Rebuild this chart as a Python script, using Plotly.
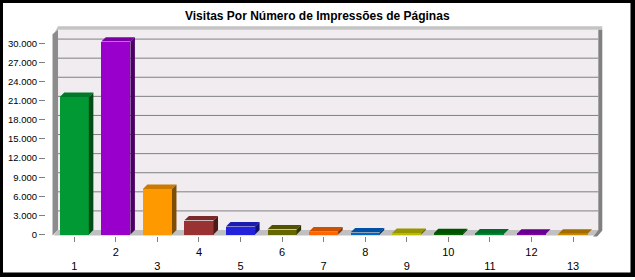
import plotly.graph_objects as go

# ---------------- data ----------------
CATEGORIES = [1, 2, 3, 4, 5, 6, 7, 8, 9, 10, 11, 12, 13]
X_LABELS = ["1", "2", "3", "4", "5", "6", "7", "8", "9", "10", "11", "12", "13"]
VISITS = [21600, 30300, 7150, 2220, 1250, 800, 480, 330, 220, 200, 160, 130, 110]
BAR_COLORS = ["#009933", "#9900cc", "#ff9900", "#993333", "#2222dd", "#666600",
              "#ff6600", "#0066cc", "#bbbb00", "#006600", "#008833", "#8000b0", "#cc8800"]
Y_TICKS = [0, 3000, 6000, 9000, 12000, 15000, 18000, 21000, 24000, 27000, 30000]
Y_TICK_TEXT = ["0", "3.000", "6.000", "9.000", "12.000", "15.000", "18.000",
               "21.000", "24.000", "27.000", "30.000"]
TITLE = "Visitas Por Número de Impressões de Páginas"

# ---------------- geometry (pixels) ----------------
W, H = 635, 280
DOM_L, DOM_R, DOM_T, DOM_B = 50, 604, 26, 239
U = 41.56            # px per category unit
X1_PX = 74.3         # pixel of category 1
S = 193 / 30000      # px per value
Y0_PX = 237          # pixel of value 0
DX_PX, DY_PX = 4.5, 4.5   # 3D depth
BAR_W = 0.7

x_range = [1 - (X1_PX - DOM_L) / U, 1 + (DOM_R - X1_PX) / U]
y_range = [-(DOM_B - Y0_PX) / S, (Y0_PX - DOM_T) / S]


def px2x(p):
    return 1 + (p - X1_PX) / U


def px2y(p):
    return (Y0_PX - p) / S


DX = DX_PX / U
DY = DY_PX / S


def shade(hexcol, f):
    r, g, b = int(hexcol[1:3], 16), int(hexcol[3:5], 16), int(hexcol[5:7], 16)
    return "#%02x%02x%02x" % (int(r * f), int(g * f), int(b * f))


def path(points):
    return "M " + " L ".join(f"{px2x(a)},{px2y(b)}" for a, b in points) + " Z"


fig = go.Figure()

# front faces
fig.add_trace(go.Bar(x=CATEGORIES, y=VISITS, width=BAR_W,
                     marker=dict(color=BAR_COLORS, line=dict(width=0)),
                     hoverinfo="skip", showlegend=False))

# top and side faces
for c, v, col in zip(CATEGORIES, VISITS, BAR_COLORS):
    xl, xr = c - BAR_W / 2, c + BAR_W / 2
    top_col = shade(col, 0.8)
    side_col = shade(col, 0.5)
    fig.add_trace(go.Scatter(x=[xl, xr, xr + DX, xl + DX, xl], y=[v, v, v + DY, v + DY, v],
                             fill="toself", fillcolor=top_col, mode="lines",
                             line=dict(width=0, color=top_col),
                             hoverinfo="skip", showlegend=False))
    fig.add_trace(go.Scatter(x=[xr, xr + DX, xr + DX, xr, xr], y=[0, DY, v + DY, v, 0],
                             fill="toself", fillcolor=side_col, mode="lines",
                             line=dict(width=0, color=side_col),
                             hoverinfo="skip", showlegend=False))

# dummy trace for second label row
fig.add_trace(go.Scatter(x=[1], y=[0], xaxis="x2", mode="markers",
                         marker=dict(opacity=0), hoverinfo="skip", showlegend=False))

# front plane pixel extents
FL, FR = X1_PX - U / 2, X1_PX + 12.5 * U
BL, BR = FL + DX_PX, FR + DX_PX
WALL_TOP = 30
FLOOR_BACK = Y0_PX - DY_PX

shapes = []
# back wall
shapes.append(dict(type="path", xref="x", yref="y", layer="below",
                   path=path([(BL, FLOOR_BACK), (BR, FLOOR_BACK), (BR, WALL_TOP), (BL, WALL_TOP)]),
                   fillcolor="#f0ecf0", line=dict(width=0)))
# top strip
shapes.append(dict(type="path", xref="x", yref="y", layer="below",
                   path=path([(FL, WALL_TOP + DY_PX), (BL, WALL_TOP - 4 + 0.5), (BR + 4, WALL_TOP - 4 + 0.5),
                              (BR + 4, WALL_TOP), (BL, WALL_TOP)]),
                   fillcolor="#c4c4c4", line=dict(width=0)))
# left wall
shapes.append(dict(type="path", xref="x", yref="y", layer="below",
                   path=path([(FL - 1, Y0_PX + 1), (BL, FLOOR_BACK), (BL, WALL_TOP), (FL - 1, WALL_TOP + DY_PX)]),
                   fillcolor="#8c8c8c", line=dict(width=0)))
# floor
shapes.append(dict(type="path", xref="x", yref="y", layer="below",
                   path=path([(FL, Y0_PX + 1), (FR, Y0_PX + 1), (BR, FLOOR_BACK), (BL, FLOOR_BACK)]),
                   fillcolor="#c0c0c0", line=dict(width=0)))
# right edge
shapes.append(dict(type="path", xref="x", yref="y", layer="below",
                   path=path([(BR, WALL_TOP), (BR + 4, WALL_TOP), (BR + 4, FLOOR_BACK + 0.5),
                              (FR + 3, Y0_PX + 2.5), (FR - 1, Y0_PX + 2.5), (BR, FLOOR_BACK)]),
                   fillcolor="#808080", line=dict(width=0)))
# gridlines on back wall
for t in Y_TICKS[1:]:
    shapes.append(dict(type="line", xref="x", yref="y", layer="below",
                       x0=px2x(BL), x1=px2x(BR), y0=t + DY, y1=t + DY,
                       line=dict(color="#808080", width=1)))
# outer black frame
for x0, y0, x1, y1 in [(0, 0, 3, H), (0, 0, W, 3), (630.5, 0, W, H), (0, 275.5, W, H)]:
    shapes.append(dict(type="rect", xref="paper", yref="paper", layer="above",
                       x0=x0 / W, x1=x1 / W, y0=1 - y1 / H, y1=1 - y0 / H,
                       fillcolor="black", line=dict(width=0)))

FONT = "Liberation Sans, Arial, sans-serif"
even_text = [lab if c % 2 == 0 else "" for c, lab in zip(CATEGORIES, X_LABELS)]
odd_vals = [c for c in CATEGORIES if c % 2 == 1]
odd_text = [lab for c, lab in zip(CATEGORIES, X_LABELS) if c % 2 == 1]

fig.update_layout(
    width=W, height=H, margin=dict(l=0, r=0, t=0, b=0),
    paper_bgcolor="white", plot_bgcolor="white",
    showlegend=False, shapes=shapes, bargap=0,
    font=dict(family=FONT, size=11, color="black"),
    xaxis=dict(domain=[DOM_L / W, DOM_R / W], range=x_range, anchor="y",
               tickmode="array", tickvals=CATEGORIES, ticktext=even_text,
               ticks="outside", ticklen=5, tickcolor="#808080",
               showgrid=False, zeroline=False, showline=False, fixedrange=True),
    xaxis2=dict(domain=[DOM_L / W, DOM_R / W], range=x_range, anchor="y", overlaying="x",
                side="bottom", tickmode="array", tickvals=odd_vals, ticktext=odd_text,
                ticks="", ticklabelstandoff=22,
                showgrid=False, zeroline=False, showline=False, fixedrange=True),
    yaxis=dict(domain=[1 - DOM_B / H, 1 - DOM_T / H], range=y_range, anchor="free",
               position=45 / W, side="left",
               tickmode="array", tickvals=Y_TICKS, ticktext=Y_TICK_TEXT,
               tickfont=dict(size=9.5),
               ticks="outside", ticklen=6, tickcolor="#808080",
               showgrid=False, zeroline=False, showline=False, fixedrange=True),
    annotations=[dict(text="<b>" + TITLE + "</b>", xref="paper", yref="paper",
                      x=317 / W, y=1 - 16 / H, xanchor="center", yanchor="middle",
                      showarrow=False, font=dict(family=FONT, size=12, color="black"))],
)

fig.write_html("out.html")
